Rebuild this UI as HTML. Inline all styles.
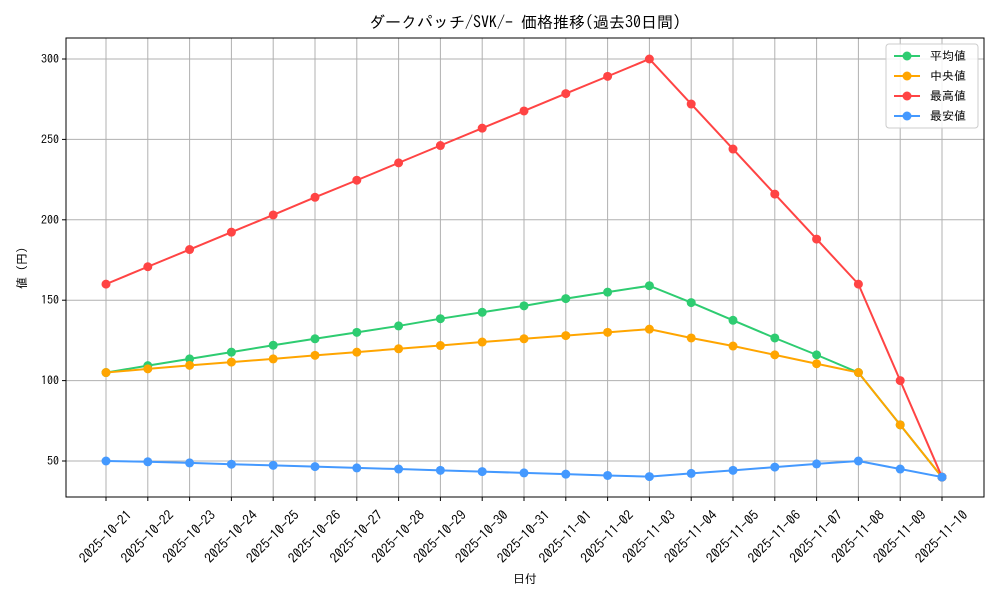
<!DOCTYPE html>
<html><head><meta charset="utf-8"><style>
body{margin:0;background:#fff;}
svg text{font-family:"IPAGothic","Noto Sans CJK JP",monospace;fill:#000;}
</style></head><body>
<svg id="chart" width="1000" height="600" xmlns="http://www.w3.org/2000/svg">
<rect width="1000" height="600" fill="#fff"/>
<text x="525" y="28" font-size="16" text-anchor="middle">ダークパッチ/SVK/- 価格推移(過去30日間)</text>
<g id="grid"></g>
<g id="series"></g>
<rect x="66" y="38" width="918" height="459" fill="none" stroke="#000" stroke-width="1"/>
<g id="axes"></g>
<text x="525" y="583" font-size="12" text-anchor="middle">日付</text>
<text transform="translate(26,268) rotate(-90)" font-size="12" text-anchor="middle">値 (円)</text>
<g id="legend"></g>
</svg>
<script>
const dates=["2025-10-21","2025-10-22","2025-10-23","2025-10-24","2025-10-25","2025-10-26","2025-10-27","2025-10-28","2025-10-29","2025-10-30","2025-10-31","2025-11-01","2025-11-02","2025-11-03","2025-11-04","2025-11-05","2025-11-06","2025-11-07","2025-11-08","2025-11-09","2025-11-10"];
const avgValues=[105,109.3,113.5,117.7,122,126,130,134,138.5,142.5,146.5,151,155,159,148.5,137.5,126.5,116,105,72.5,40];
const medianValues=[105,107.3,109.5,111.5,113.5,115.7,117.7,119.8,121.8,124,126,128,130,132,126.5,121.5,116,110.5,105,72.5,40];
const maxValues=[160,170.8,181.5,192.3,203,214,224.6,235.4,246.2,257,267.7,278.5,289.2,300,272,244,216,188,160,100,40];
const minValues=[50,49.5,48.8,48,47.3,46.5,45.7,45,44.2,43.4,42.6,41.8,41,40.3,42.3,44.2,46.2,48.2,50,45,40];
const yTicks=[50,100,150,200,250,300];
const seriesNames=["平均値","中央値","最高値","最安値"];
const NS="http://www.w3.org/2000/svg";
const X0=106,X1=942,Y50=461,PPU=1.608;
function xs(i){return X0+(X1-X0)*i/(dates.length-1);}
function ys(v){return Y50-(v-50)*PPU;}
function mk(tag,attrs,parent){const e=document.createElementNS(NS,tag);for(const k in attrs)e.setAttribute(k,attrs[k]);parent.appendChild(e);return e;}
const grid=document.getElementById('grid'),axes=document.getElementById('axes'),ser=document.getElementById('series'),leg=document.getElementById('legend');
dates.forEach((d,i)=>{
 const x=xs(i);
 const g=mk('line',{x1:x,x2:x,y1:38,y2:497,stroke:'#b0b0b0','stroke-width':1},grid);
 
 
 mk('line',{x1:x,x2:x,y1:497,y2:501,stroke:'#000'},axes);
 const t=mk('text',{x:x,y:541,'font-size':13.5,'text-anchor':'middle',transform:`rotate(-45 ${x} 537)`},axes);
 t.textContent=d;
 
 
});
yTicks.forEach(v=>{
 const y=ys(v);
 const g=mk('line',{x1:66,x2:984,y1:y,y2:y,stroke:'#b0b0b0','stroke-width':1},grid);
 
 
 mk('line',{x1:62,x2:66,y1:y,y2:y,stroke:'#000'},axes);
 const t=mk('text',{x:59,y:y+4,'font-size':12,'text-anchor':'end'},axes);
 t.textContent=v;
 
 
});
const all=[avgValues,medianValues,maxValues,minValues];
const colors=["#2ecc71","#ffa500","#ff4444","#4499ff"];
const keys=["avg","median","max","min"];
all.forEach((vals,s)=>{
 const p=mk('polyline',{points:vals.map((v,i)=>xs(i)+','+ys(v)).join(' '),fill:'none',stroke:colors[s],'stroke-width':2},ser);
 
 
 vals.forEach((v,i)=>{
  const c=mk('circle',{cx:xs(i),cy:ys(v),r:4.5,fill:colors[s]},ser);
  
  
 });
});
const box=mk('rect',{x:886,y:44,width:92,height:84,fill:'#fff','fill-opacity':0.85,stroke:'#ccc',rx:3},leg);


seriesNames.forEach((n,s)=>{
 const y=56+s*20;
 const l=mk('line',{x1:894,x2:920,y1:y,y2:y,stroke:colors[s],'stroke-width':2},leg);
 
 
 mk('circle',{cx:907,cy:y,r:4.5,fill:colors[s]},leg);
 const t=mk('text',{x:930,y:y+4,'font-size':12},leg);
 t.textContent=n;
 
 
});
</script>
</body></html>
